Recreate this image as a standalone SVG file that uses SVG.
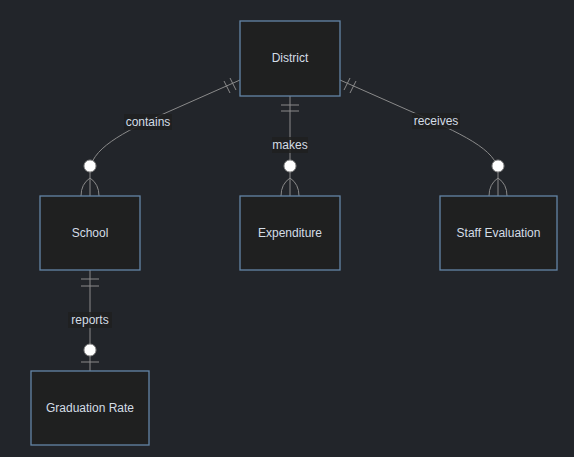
<svg xmlns="http://www.w3.org/2000/svg" width="574" height="457" viewBox="0 0 574 457">
  <style>
    .bg { fill: #22252a; }
    .entity rect { fill: #1f2020; stroke: #6485a6; stroke-width: 1.3; }
    .entity text, .label text { font-family: "Liberation Sans", Arial, sans-serif; font-size: 12px; fill: #d4dde6; text-anchor: middle; }
    .rel { fill: none; stroke: #8a8a8a; stroke-width: 1; }
    .mark { fill: none; stroke: #8a8a8a; stroke-width: 1; }
    .zero { fill: #ffffff; stroke: #8a8a8a; stroke-width: 1; }
    .label rect { fill: #1f2020; opacity: 0.85; }
  </style>
  <defs>
    <!-- crow's foot "many" ending, drawn pointing down to a box top at (0,0) -->
    <g id="many">
      <path class="mark" d="M0,-18 Q-9,-12 -9,0 M0,-18 Q9,-12 9,0"/>
      <circle class="zero" cx="0" cy="-30" r="6"/>
    </g>
  </defs>
  <rect class="bg" x="0" y="0" width="574" height="457"/>

  <g id="connectors">
    <!-- District contains School -->
    <path class="rel" d="M240,80 L170,111 C120,133 90,150 90,172 L90,196"/>
    <path class="mark" d="M224,81 L230,93 M230,78 L236,90"/>
    <use href="#many" x="90" y="196"/>
    <!-- District makes Expenditure -->
    <path class="rel" d="M290,96 L290,196"/>
    <path class="mark" d="M281,105 L299,105 M281,111 L299,111"/>
    <use href="#many" x="290" y="196"/>
    <!-- District receives Staff Evaluation -->
    <path class="rel" d="M340,80 L410,111 C460,133 498,150 498,172 L498,196"/>
    <path class="mark" d="M350,78 L344,90 M356,81 L350,93"/>
    <use href="#many" x="498" y="196"/>
    <!-- School reports Graduation Rate -->
    <path class="rel" d="M90,270 L90,371"/>
    <path class="mark" d="M81,279 L99,279 M81,286 L99,286"/>
    <path class="mark" d="M81,362 L99,362"/>
    <circle class="zero" cx="90" cy="350" r="6"/>

    <g class="label"><rect x="124" y="114" width="48" height="16"/><text x="148" y="126">contains</text></g>
    <g class="label"><rect x="272" y="137" width="36" height="16"/><text x="290" y="149">makes</text></g>
    <g class="label"><rect x="412" y="113" width="48" height="16"/><text x="436" y="125">receives</text></g>
    <g class="label"><rect x="68" y="312" width="44" height="16"/><text x="90" y="324">reports</text></g>
  </g>

  <g id="district" class="entity"><rect x="240" y="21" width="100" height="75"/><text x="290" y="62">District</text></g>
  <g id="school" class="entity"><rect x="40" y="196" width="100" height="74"/><text x="90" y="237">School</text></g>
  <g id="expenditure" class="entity"><rect x="240" y="196" width="100" height="74"/><text x="290" y="237">Expenditure</text></g>
  <g id="staff-evaluation" class="entity"><rect x="440" y="196" width="117" height="74"/><text x="498.5" y="237">Staff Evaluation</text></g>
  <g id="graduation-rate" class="entity"><rect x="31" y="371" width="118" height="74"/><text x="90" y="412">Graduation Rate</text></g>
</svg>
